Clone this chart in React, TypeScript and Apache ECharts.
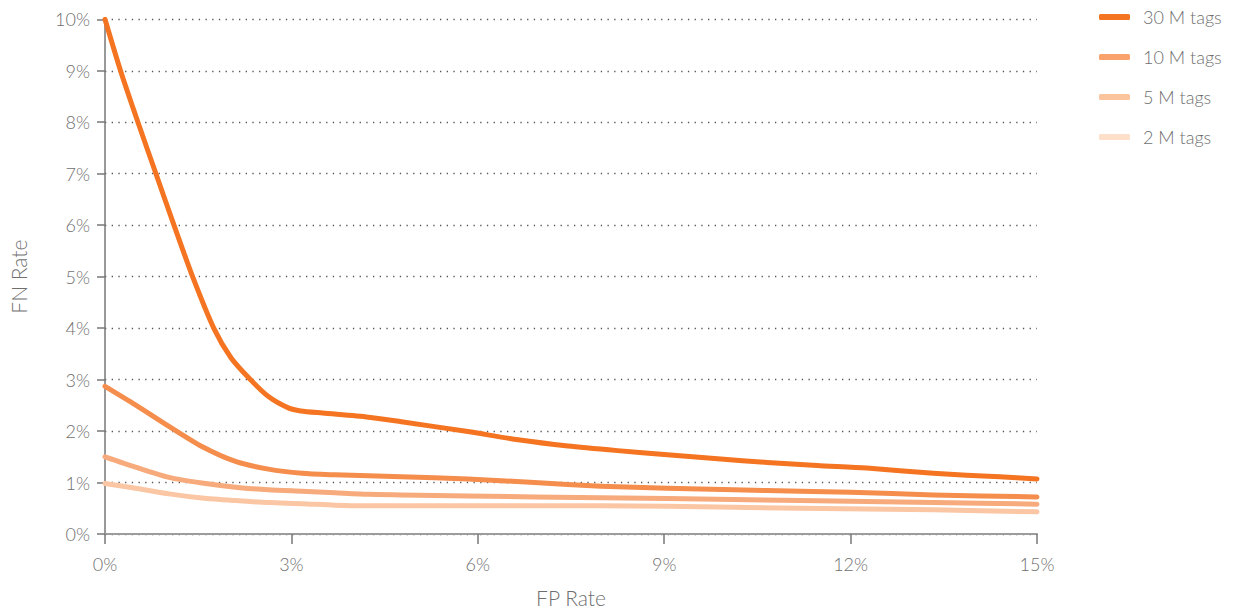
import React, { useEffect, useRef } from "react";
import * as echarts from "echarts";

const seriesNames = ["30 M tags", "10 M tags", "5 M tags", "2 M tags"];
const lineColors = ["#F47421", "#F58D4D", "#F7AA7B", "#FAC6A3"];
const legendColors = ["#F47421", "#FAA26B", "#FCC49C", "#FDDFCA"];

const fp30 = [0, 0.25, 0.53, 0.82, 1.11, 1.41, 1.75, 2.03, 2.34, 2.63, 2.95, 3.15, 3.5, 4.24, 4.77, 5.84, 6.65, 7.45, 8.25, 9.05, 9.86, 10.66, 11.46, 12.26, 13.33, 14.4, 15];
const fn30 = [10, 9, 8, 7, 6, 5, 4, 3.42, 3.0, 2.67, 2.45, 2.39, 2.35, 2.27, 2.18, 1.99, 1.83, 1.71, 1.62, 1.54, 1.46, 1.39, 1.33, 1.28, 1.18, 1.11, 1.07];

const fp10 = [0, 0.49, 1.03, 1.56, 2.1, 2.63, 3.17, 3.7, 4.24, 4.77, 5.84, 6.91, 7.98, 9.05, 10.12, 11.19, 12.0, 13.33, 15];
const fn10 = [2.87, 2.51, 2.09, 1.7, 1.41, 1.26, 1.18, 1.15, 1.13, 1.11, 1.07, 1.0, 0.93, 0.89, 0.86, 0.83, 0.81, 0.76, 0.72];

const fp5 = [0, 0.49, 1.03, 1.56, 2.1, 2.63, 3.17, 3.7, 4.24, 4.77, 6.91, 9.05, 11.19, 13.33, 15];
const fn5 = [1.5, 1.3, 1.1, 0.99, 0.91, 0.86, 0.83, 0.8, 0.77, 0.76, 0.72, 0.69, 0.65, 0.61, 0.58];

const fp2 = [0, 0.49, 1.03, 1.56, 2.1, 2.63, 3.17, 3.7, 4.24, 4.77, 6.91, 9.05, 11.19, 13.33, 15];
const fn2 = [0.98, 0.89, 0.78, 0.7, 0.65, 0.61, 0.59, 0.56, 0.55, 0.55, 0.55, 0.54, 0.5, 0.47, 0.43];

const xs = [fp30, fp10, fp5, fp2];
const ys = [fn30, fn10, fn5, fn2];

const FONT = "Lato, 'Open Sans', sans-serif";
const TEXT = "#6f6f6f";

export default function App() {
  const ref = useRef<HTMLDivElement>(null);
  useEffect(() => {
    if (!ref.current) return;
    const chart = echarts.init(ref.current, null, { renderer: "svg" });
    const series = seriesNames.map((name, i) => ({
      name,
      type: "line",
      smooth: 0.25,
      symbol: "none",
      data: xs[i].map((x, j) => [x, ys[i][j]]),
      lineStyle: { color: lineColors[i], width: 5, cap: "round", join: "round" },
      itemStyle: { color: lineColors[i] },
      z: 10 - i,
    }));
    chart.setOption({
      animation: false,
      backgroundColor: "#ffffff",
      textStyle: { fontFamily: FONT },
      grid: { left: 102.7, right: 196, top: 19.3, bottom: 78.7, containLabel: false },
      legend: {
        orient: "vertical",
        left: 1094,
        top: 2,
        icon: "roundRect",
        itemWidth: 31,
        itemHeight: 6,
        itemGap: 20,
        selectedMode: false,
        textStyle: { color: TEXT, fontSize: 18, fontWeight: 300, fontFamily: FONT, lineHeight: 20, padding: [0, 0, 0, 8] },
        data: seriesNames.map((n, i) => ({ name: n, itemStyle: { color: legendColors[i] } })),
      },
      xAxis: {
        type: "value",
        min: 0,
        max: 15,
        interval: 3,
        name: "FP Rate",
        nameLocation: "middle",
        nameGap: 53,
        nameTextStyle: { color: TEXT, fontSize: 21, fontWeight: 300, fontFamily: FONT },
        axisLine: { show: true, onZero: false, lineStyle: { color: "#9c9c9c", width: 2 } },
        axisTick: { show: true, length: 10, lineStyle: { color: "#777", width: 1.5 } },
        axisLabel: { color: TEXT, fontSize: 18, fontWeight: 300, margin: 21, fontFamily: FONT, formatter: "{value}%" },
        splitLine: { show: false },
      },
      yAxis: {
        type: "value",
        min: 0,
        max: 10,
        interval: 1,
        name: "FN Rate",
        nameLocation: "middle",
        nameGap: 76,
        nameTextStyle: { color: TEXT, fontSize: 21, fontWeight: 300, fontFamily: FONT },
        axisLine: { show: true, lineStyle: { color: "#777", width: 1.5 } },
        axisTick: { show: true, length: 8, lineStyle: { color: "#777", width: 1.5 } },
        axisLabel: { color: TEXT, fontSize: 18, fontWeight: 300, margin: 15, fontFamily: FONT, formatter: "{value}%" },
        splitLine: { show: true, lineStyle: { color: "#555", width: 1.3, type: [1.3, 5.4] } },
      },
      series,
    });
    return () => chart.dispose();
  }, []);
  return (
    <div
      ref={ref}
      style={{ position: "fixed", left: 0, top: 0, width: 1233, height: 613, background: "#fff" }}
    />
  );
}
